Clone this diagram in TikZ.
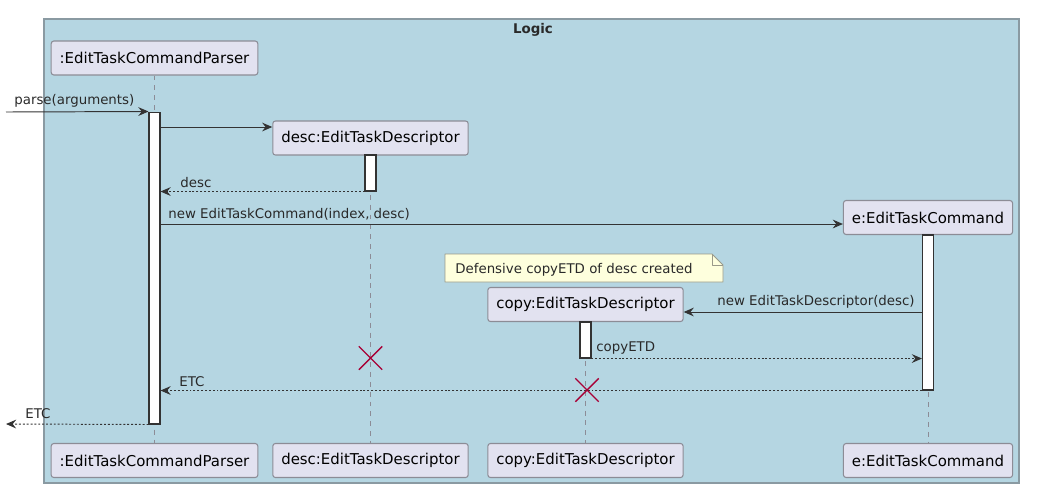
\documentclass[tikz,border=0pt]{standalone}
\usepackage{fontspec}
\setmainfont{DejaVu Sans}
\usetikzlibrary{arrows.meta,positioning,shapes.misc}

\definecolor{logicbg}{HTML}{B5D6E2}
\definecolor{frameline}{HTML}{8A9AA2}
\definecolor{partfill}{HTML}{E2E2F0}
\definecolor{partline}{HTML}{8C8C96}
\definecolor{msgline}{HTML}{333333}
\definecolor{notefill}{HTML}{FEFFDD}
\definecolor{noteline}{HTML}{9A9A8A}
\definecolor{xred}{HTML}{A80036}

\tikzset{
  participant/.style={draw=partline, fill=partfill, rounded corners=1.5pt, line width=0.6pt,
    minimum height=0.68cm, inner xsep=0.17cm, font=\fontsize{8.5}{10}\selectfont},
  actbar/.style={draw=msgline, fill=white, line width=0.6pt, minimum width=0.22cm, inner sep=0pt},
  lifeline/.style={draw=partline, line width=0.5pt, dash pattern=on 2.8pt off 2.8pt},
  msg/.style={draw=msgline, line width=0.55pt, -{Stealth[length=5.8pt,width=5pt,inset=2pt]}},
  reply/.style={msg, dash pattern=on 1.1pt off 1.1pt},
  msglabel/.style={font=\fontsize{7.6}{9}\selectfont, text=msgline!80!black, inner sep=0pt},
  destroy/.style={cross out, draw=xred, line width=0.8pt, minimum size=0.44cm, inner sep=0pt},
  notebox/.style={draw=noteline, fill=notefill, line width=0.5pt, line join=round}
}

\begin{document}
\begin{tikzpicture}[x=0.02cm, y=-0.02cm]
  \useasboundingbox (0,0) rectangle (1057,498);

  % Logic frame
  \draw[fill=logicbg, draw=frameline, line width=0.6pt] (44,19) rectangle (1019,483);
  \node[msglabel, font=\fontsize{7.6}{9}\selectfont\bfseries, anchor=base] (title) at (533,33) {Logic};

  % participants, top and bottom
  \node[participant] (p)  at (154.5,58)    {:EditTaskCommandParser};
  \node[participant] (pb) at (154.5,460.5) {:EditTaskCommandParser};
  \node[participant] (d)  at (370.5,138)   {desc:EditTaskDescriptor};
  \node[participant] (db) at (370.5,460.5) {desc:EditTaskDescriptor};
  \node[participant] (c)  at (585.5,304.5) {copy:EditTaskDescriptor};
  \node[participant] (cb) at (585.5,460.5) {copy:EditTaskDescriptor};
  \node[participant] (e)  at (928,217.5)   {e:EditTaskCommand};
  \node[participant] (eb) at (928,460.5)   {e:EditTaskCommand};

  % lifelines
  \foreach \top/\bot in {p/pb, d/db, c/cb, e/eb}
    \draw[lifeline] (\top.south) -- (\bot.north);

  % activations
  \node[actbar, minimum height=6.24cm] (ap) at (154.5,268)   {};
  \node[actbar, minimum height=0.72cm] (ad) at (370.5,173)   {};
  \node[actbar, minimum height=3.10cm] (ae) at (928,312.5)   {};
  \node[actbar, minimum height=0.72cm] (ac) at (585.5,340)   {};

  % free ends and message rows
  \coordinate (in)  at (6,112);
  \coordinate (out) at (6,424);
  \coordinate (rowd) at (0,127);
  \coordinate (rowe) at (0,224);
  \coordinate (rowc) at (0,312);

  % messages
  \draw[msg]   (in) -- (ap.north west);
  \node[msglabel, anchor=base west] (lparse) at (14,104) {parse(arguments)};
  \draw[msg]   (ap.east |- rowd) -- (d.west |- rowd);
  \draw[reply] (ad.south west) -- (ap.east |- ad.south);
  \node[msglabel, anchor=base west] (ldesc) at (180,187) {desc};
  \draw[msg]   (ap.east |- rowe) -- (e.west |- rowe);
  \node[msglabel, anchor=base west] (lnewe) at (168,218) {new EditTaskCommand(index, desc)};
  \draw[msg]   (ae.west |- rowc) -- (c.east |- rowc);
  \node[msglabel, anchor=base east] (lnewc) at (915,305) {new EditTaskDescriptor(desc)};
  \draw[reply] (ac.south east) -- (ae.west |- ac.south);
  \node[msglabel, anchor=base west] (lcopy) at (596,351) {copyETD};
  \draw[reply] (ae.south west) -- (ap.east |- ae.south);
  \node[msglabel, anchor=base west] (letc) at (179,386) {ETC};
  \draw[reply] (ap.south west) -- (out);
  \node[msglabel, anchor=base west] (lout) at (25,418) {ETC};

  % destroyed descriptors
  \node[destroy] (xd) at (370.5,358) {};
  \node[destroy] (xc) at (587,390)   {};

  % note
  \draw[notebox] (445,254) -- (712,254) -- (723,265) -- (723,282) -- (445,282) -- cycle;
  \draw[notebox, fill=none] (712,254) -- (712,265) -- (723,265);
  \node[msglabel, anchor=base west] (lnote) at (455,273) {Defensive copyETD of desc created};
\end{tikzpicture}
\end{document}
